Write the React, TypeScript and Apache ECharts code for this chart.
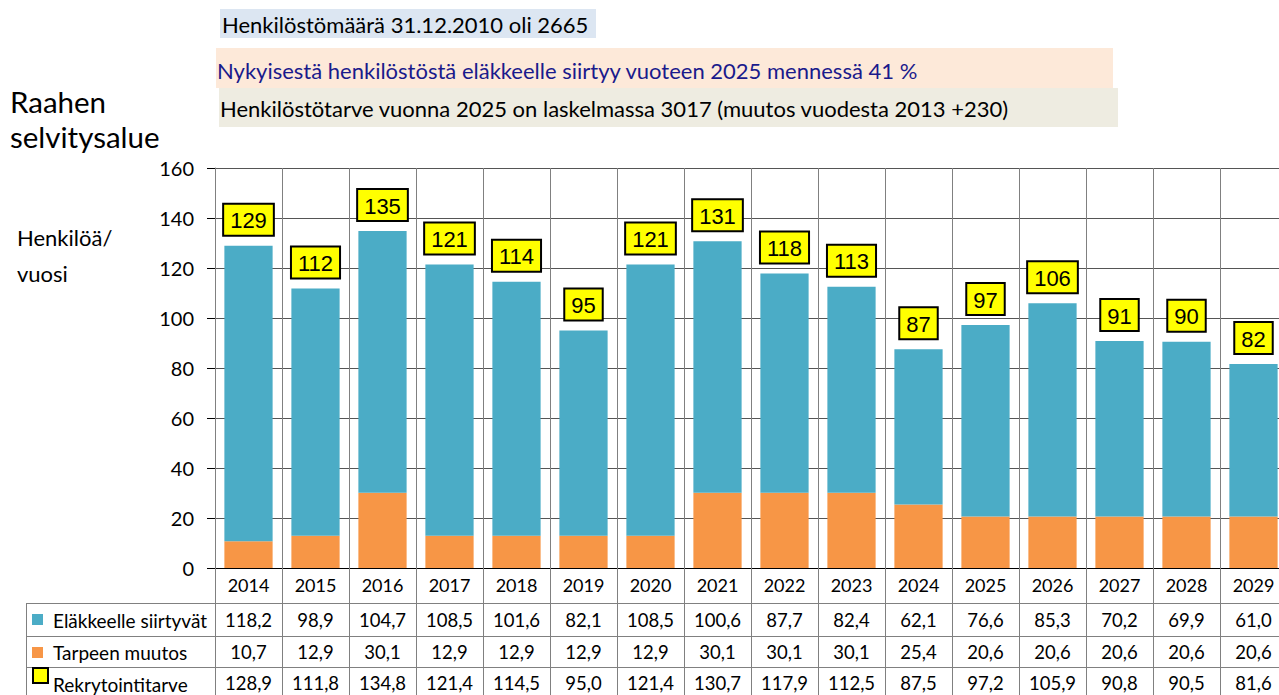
import React, { useEffect, useRef } from "react";
import * as echarts from "echarts";

const years = ["2014","2015","2016","2017","2018","2019","2020","2021","2022","2023","2024","2025","2026","2027","2028","2029"];
const elakkeelle = [118.2, 98.9, 104.7, 108.5, 101.6, 82.1, 108.5, 100.6, 87.7, 82.4, 62.1, 76.6, 85.3, 70.2, 69.9, 61.0];
const tarpeenMuutos = [10.7, 12.9, 30.1, 12.9, 12.9, 12.9, 12.9, 30.1, 30.1, 30.1, 25.4, 20.6, 20.6, 20.6, 20.6, 20.6];
const rekrytointitarve = [128.9, 111.8, 134.8, 121.4, 114.5, 95.0, 121.4, 130.7, 117.9, 112.5, 87.5, 97.2, 105.9, 90.8, 90.5, 81.6];
const rekryLabels = [129, 112, 135, 121, 114, 95, 121, 131, 118, 113, 87, 97, 106, 91, 90, 82];
const yTicks = { min: 0, max: 160, interval: 20 };

const seriesNames = ["Eläkkeelle siirtyvät", "Tarpeen muutos", "Rekrytointitarve"];
const bannerTexts = [
  "Henkilöstömäärä 31.12.2010 oli 2665",
  "Nykyisestä henkilöstöstä eläkkeelle siirtyy vuoteen 2025 mennessä 41 %",
  "Henkilöstötarve vuonna 2025 on laskelmassa 3017 (muutos vuodesta 2013 +230)",
];

const BLUE = "#4BACC6";
const ORANGE = "#F79646";
const FONT = "Lato";
const fmt = (v: number) => v.toFixed(1).replace(".", ",");

export default function App() {
  const ref = useRef<HTMLDivElement>(null);
  useEffect(() => {
    if (!ref.current) return;
    const chart = echarts.init(ref.current, null, { renderer: "svg" });
    const tableAxis = (arr: number[], offset: number) => ({
      type: "category",
      data: years,
      position: "bottom",
      offset,
      axisLine: { show: false },
      axisTick: { show: false },
      splitLine: { show: false },
      axisLabel: {
        margin: 8,
        fontSize: 18.5,
        fontFamily: FONT,
        color: "#000",
        formatter: (_v: string, i: number) => fmt(arr[i]),
      },
    });
    const lineStyle = { stroke: "#808080", lineWidth: 1 };
    chart.setOption({
      animation: false,
      backgroundColor: "#fff",
      grid: { left: 215, top: 168, width: 67 * 16, height: 400 },
      xAxis: [
        {
          type: "category",
          data: years,
          axisLine: { show: true, lineStyle: { color: "#000", width: 1 } },
          axisTick: { show: true, length: 130, lineStyle: { color: "#808080" } },
          splitLine: { show: true, lineStyle: { color: "#808080" } },
          axisLabel: { margin: 8, fontSize: 18, fontFamily: FONT, color: "#000" },
        },
        tableAxis(elakkeelle, 34),
        tableAxis(tarpeenMuutos, 66),
        tableAxis(rekrytointitarve, 97),
      ],
      yAxis: {
        type: "value",
        min: yTicks.min,
        max: yTicks.max,
        interval: yTicks.interval,
        axisLine: { show: true, lineStyle: { color: "#808080" } },
        axisTick: { show: true, length: 8, lineStyle: { color: "#000" } },
        splitLine: { show: true, lineStyle: { color: "#555" } },
        axisLabel: { margin: 21, fontSize: 20, fontFamily: FONT, color: "#000" },
      },
      series: [
        {
          name: seriesNames[1],
          type: "bar",
          stack: "total",
          data: tarpeenMuutos,
          barCategoryGap: "28%",
          itemStyle: { color: ORANGE },
        },
        {
          name: seriesNames[0],
          type: "bar",
          stack: "total",
          data: elakkeelle,
          barCategoryGap: "28%",
          itemStyle: { color: BLUE },
          label: {
            show: true,
            position: "top",
            distance: 11,
            formatter: (p: any) => String(rekryLabels[p.dataIndex]),
            backgroundColor: "#FFFF00",
            borderColor: "#000",
            borderWidth: 2,
            padding: [5, 6, 3, 6],
            fontSize: 22,
            fontFamily: "Liberation Sans",
            color: "#000",
          },
        },
      ],
      graphic: [
        { type: "rect", shape: { x: 220, y: 9, width: 376, height: 29 }, style: { fill: "#DCE6F2" }, silent: true },
        { type: "text", x: 222, y: 24, style: { text: bannerTexts[0], fontSize: 22, fontFamily: FONT, fill: "#000", verticalAlign: "middle" } },
        { type: "rect", shape: { x: 216, y: 48, width: 897, height: 40 }, style: { fill: "#FDE9D9" }, silent: true },
        { type: "text", x: 217, y: 70, style: { text: bannerTexts[1], fontSize: 22, fontFamily: FONT, fill: "#1A1A8C", verticalAlign: "middle" } },
        { type: "rect", shape: { x: 219, y: 88, width: 899, height: 39 }, style: { fill: "#EEECE1" }, silent: true },
        { type: "text", x: 220, y: 108, style: { text: bannerTexts[2], fontSize: 22, fontFamily: FONT, fill: "#000", verticalAlign: "middle" } },
        { type: "text", x: 10, y: 84, style: { text: "Raahen\nselvitysalue", fontSize: 29.5, lineHeight: 35, fontFamily: FONT, fill: "#000" } },
        { type: "text", x: 17, y: 219, style: { text: "Henkilöä/\nvuosi", fontSize: 22, lineHeight: 36, fontFamily: FONT, fill: "#000" } },
        // table lines
        { type: "line", shape: { x1: 26, y1: 603.5, x2: 1279, y2: 603.5 }, style: lineStyle },
        { type: "line", shape: { x1: 26, y1: 636.5, x2: 1279, y2: 636.5 }, style: lineStyle },
        { type: "line", shape: { x1: 26, y1: 667.5, x2: 1279, y2: 667.5 }, style: lineStyle },
        { type: "line", shape: { x1: 26.5, y1: 603, x2: 26.5, y2: 695 }, style: lineStyle },
        // legend keys
        { type: "rect", shape: { x: 32, y: 614, width: 11, height: 11 }, style: { fill: BLUE } },
        { type: "text", x: 53, y: 620, style: { text: seriesNames[0], fontSize: 19, fontFamily: FONT, fill: "#000", verticalAlign: "middle" } },
        { type: "rect", shape: { x: 32, y: 647, width: 11, height: 11 }, style: { fill: ORANGE } },
        { type: "text", x: 53, y: 652, style: { text: seriesNames[1], fontSize: 19, fontFamily: FONT, fill: "#000", verticalAlign: "middle" } },
        { type: "rect", shape: { x: 33, y: 668, width: 15, height: 15 }, style: { fill: "#FFFF00", stroke: "#000", lineWidth: 2 } },
        { type: "text", x: 53, y: 684, style: { text: seriesNames[2], fontSize: 19, fontFamily: FONT, fill: "#000", verticalAlign: "middle" } },
      ],
    });
    return () => chart.dispose();
  }, []);
  return (
    <div style={{ position: "fixed", left: 0, top: 0, width: 1279, height: 695, overflow: "hidden", background: "#fff" }}>
      <div ref={ref} style={{ width: 1290, height: 695 }} />
    </div>
  );
}
